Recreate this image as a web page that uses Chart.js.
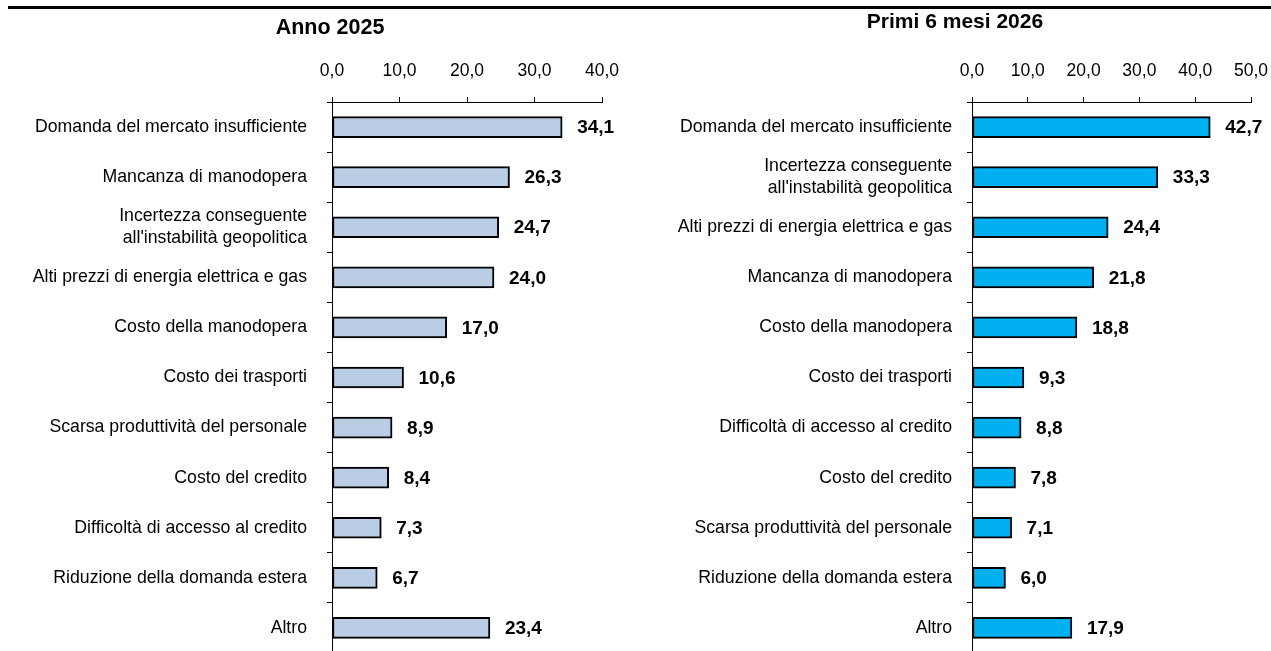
<!DOCTYPE html>
<html lang="it">
<head>
    <meta charset="UTF-8">
    <title>Ostacoli all'attività</title>
    <style>
        body {
            margin: 0;
            width: 1271px;
            height: 651px;
            overflow: hidden;
            background: #fff;
            position: relative;
            font-family: "Liberation Sans", Arial, sans-serif;
        }
        #topLine {
            position: absolute;
            left: 8px;
            right: 0;
            top: 6px;
            height: 3px;
            background: #000;
        }
        .chartTitle {
            position: absolute;
            transform: translate(-50%, -50%);
            white-space: nowrap;
            font-weight: bold;
            font-size: 21px;
            line-height: 1;
            color: #000;
        }
        #chartLeft { position: absolute; left: 0; top: 0; }
        #chartRight { position: absolute; left: 640px; top: 0; }
    </style>
</head>
<body>
    <div id="topLine"></div>
    <canvas id="chartLeft" width="640" height="660"></canvas>
    <canvas id="chartRight" width="631" height="660"></canvas>
    <div class="chartTitle" style="left:330px; top:28px; font-size:21.5px;">Anno 2025</div>
    <div class="chartTitle" style="left:955px; top:20px;">Primi 6 mesi 2026</div>

    <script src="https://cdn.jsdelivr.net/npm/chart.js"></script>
    <script>
        // Anno 2025
        const labels2025 = [
            'Domanda del mercato insufficiente',
            'Mancanza di manodopera',
            ['Incertezza conseguente', "all'instabilità geopolitica"],
            'Alti prezzi di energia elettrica e gas',
            'Costo della manodopera',
            'Costo dei trasporti',
            'Scarsa produttività del personale',
            'Costo del credito',
            'Difficoltà di accesso al credito',
            'Riduzione della domanda estera',
            'Altro'
        ];
        const values2025 = [34.1, 26.3, 24.7, 24.0, 17.0, 10.6, 8.9, 8.4, 7.3, 6.7, 23.4];

        // Primi 6 mesi 2026
        const labels2026 = [
            'Domanda del mercato insufficiente',
            ['Incertezza conseguente', "all'instabilità geopolitica"],
            'Alti prezzi di energia elettrica e gas',
            'Mancanza di manodopera',
            'Costo della manodopera',
            'Costo dei trasporti',
            'Difficoltà di accesso al credito',
            'Costo del credito',
            'Scarsa produttività del personale',
            'Riduzione della domanda estera',
            'Altro'
        ];
        const values2026 = [42.7, 33.3, 24.4, 21.8, 18.8, 9.3, 8.8, 7.8, 7.1, 6.0, 17.9];

        // x axis ranges
        const axisMax2025 = 40;
        const axisMax2026 = 50;
        const axisStep = 10;

        const fmt = v => Number(v).toFixed(1).replace('.', ',');

        // draws the value next to each bar
        const valueLabels = {
            id: 'valueLabels',
            afterDatasetsDraw(chart) {
                const ctx = chart.ctx;
                const meta = chart.getDatasetMeta(0);
                const data = chart.data.datasets[0].data;
                ctx.save();
                ctx.font = 'bold 19px "Liberation Sans", Arial, sans-serif';
                ctx.fillStyle = '#000';
                ctx.textAlign = 'left';
                ctx.textBaseline = 'middle';
                meta.data.forEach((bar, i) => {
                    ctx.fillText(fmt(data[i]), bar.x + 15, bar.y + 1);
                });
                ctx.restore();
            }
        };

        function makeChart(id, cfg) {
            const ctx = document.getElementById(id).getContext('2d');
            return new Chart(ctx, {
                type: 'bar',
                data: {
                    labels: cfg.labels,
                    datasets: [{
                        data: cfg.values,
                        backgroundColor: cfg.color,
                        borderColor: '#000',
                        borderWidth: 2,
                        borderSkipped: false,
                        barThickness: 21
                    }]
                },
                options: {
                    indexAxis: 'y',
                    responsive: false,
                    animation: false,
                    layout: {
                        padding: cfg.padding
                    },
                    scales: {
                        x: {
                            position: 'top',
                            min: 0,
                            max: cfg.max,
                            ticks: {
                                stepSize: axisStep,
                                padding: 15,
                                color: '#000',
                                maxRotation: 0,
                                font: { family: '"Liberation Sans", Arial, sans-serif', size: 17.5 },
                                callback: v => fmt(v)
                            },
                            grid: {
                                drawOnChartArea: false,
                                tickLength: 5,
                                color: '#000'
                            },
                            border: { display: true, color: '#000', width: 1 },
                            afterFit: s => {
                                s.height = 102;
                                s.paddingLeft = 0;
                                s.paddingRight = 0;
                            }
                        },
                        y: {
                            ticks: {
                                padding: cfg.yPad,
                                color: '#000',
                                font: { family: '"Liberation Sans", Arial, sans-serif', size: 17.7, lineHeight: 1.25 }
                            },
                            grid: {
                                offset: true,
                                drawOnChartArea: false,
                                tickLength: 5,
                                color: '#000'
                            },
                            border: { display: true, color: '#000', width: 1 },
                            afterFit: s => {
                                s.width = cfg.yWidth;
                                s.paddingTop = 0;
                                s.paddingBottom = 0;
                            }
                        }
                    },
                    plugins: {
                        legend: { display: false },
                        tooltip: { enabled: false },
                        title: { display: false }
                    }
                },
                plugins: [valueLabels]
            });
        }

        makeChart('chartLeft', {
            labels: labels2025,
            values: values2025,
            color: '#b9cde5',
            max: axisMax2025,
            yWidth: 332,
            yPad: 20,
            padding: { left: 0, right: 38, top: 0, bottom: 7 }
        });

        makeChart('chartRight', {
            labels: labels2026,
            values: values2026,
            color: '#00b0f0',
            max: axisMax2026,
            yWidth: 332,
            yPad: 15,
            padding: { left: 0, right: 20, top: 0, bottom: 7 }
        });
    </script>
</body>
</html>
